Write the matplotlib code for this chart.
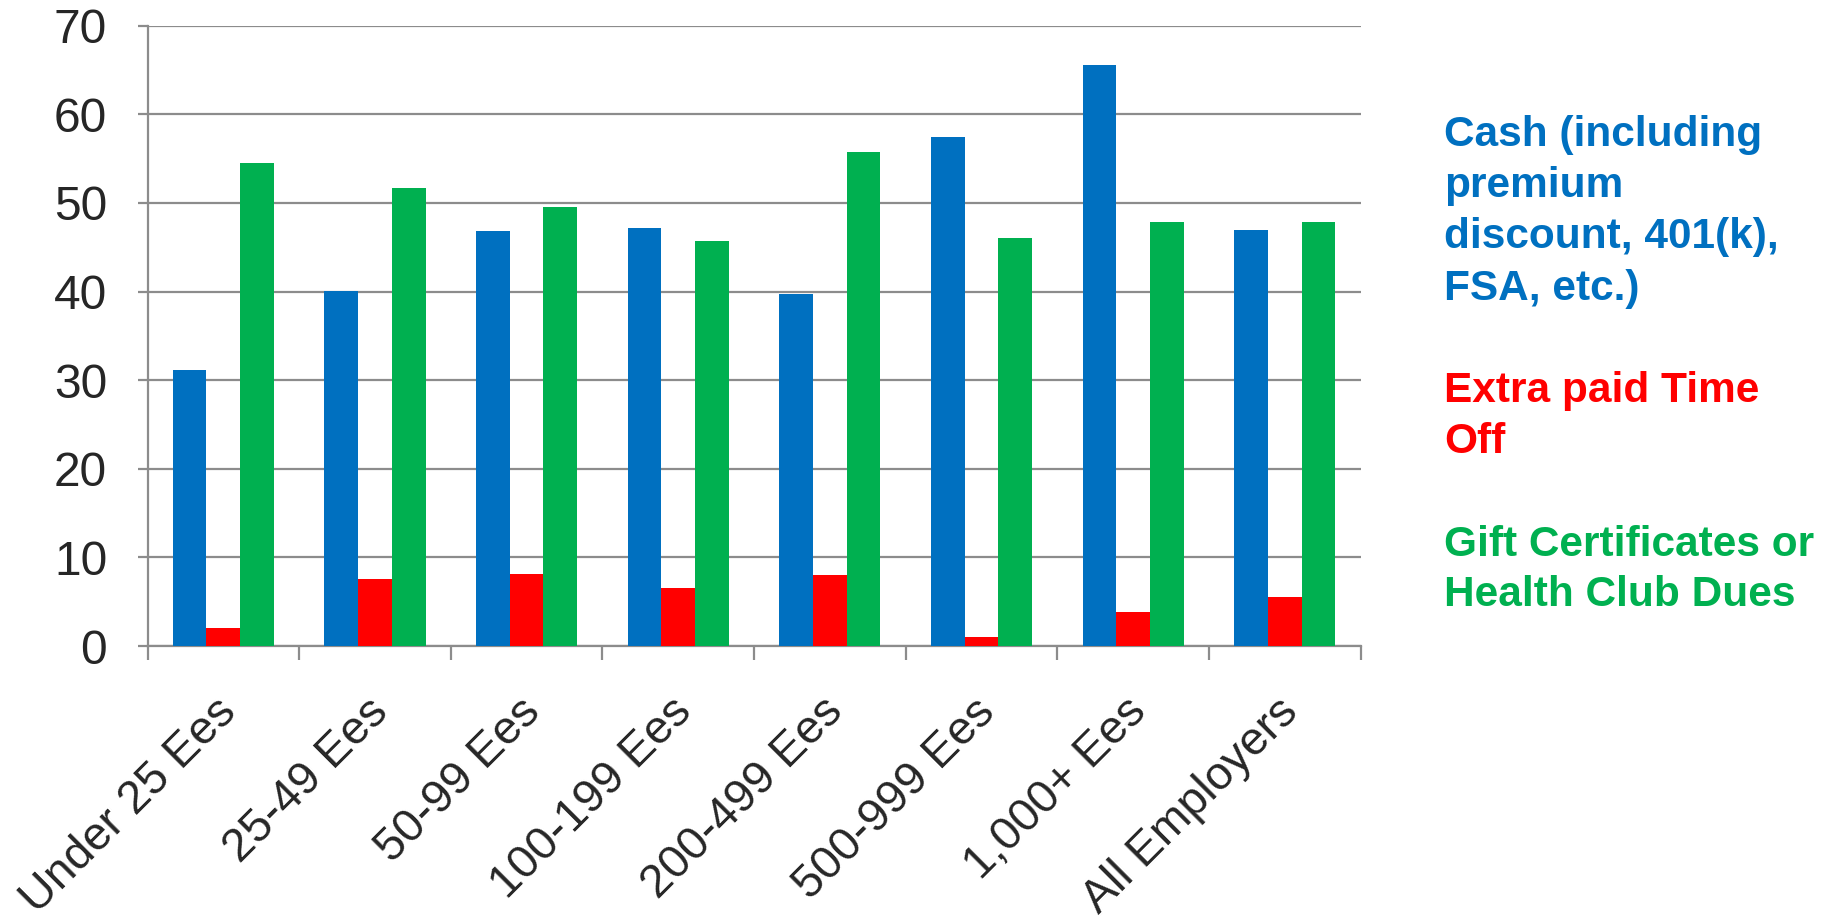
import matplotlib
matplotlib.use("Agg")
import matplotlib.pyplot as plt
import matplotlib.transforms as mtransforms
import numpy as np

# Share of employers offering each kind of incentive, by employer size
categories = ["Under 25 Ees", "25-49 Ees", "50-99 Ees", "100-199 Ees",
              "200-499 Ees", "500-999 Ees", "1,000+ Ees", "All Employers"]
cash = [31.1, 40.1, 46.8, 47.2, 39.7, 57.5, 65.6, 46.9]
time_off = [2.0, 7.6, 8.1, 6.5, 8.0, 1.0, 3.8, 5.5]
gift = [54.5, 51.7, 49.6, 45.7, 55.8, 46.0, 47.8, 47.8]
y_ticks = [0, 10, 20, 30, 40, 50, 60, 70]

series_labels = [
    ["Cash (including", "premium", "discount, 401(k),", "FSA, etc.)"],
    ["Extra paid Time", "Off"],
    ["Gift Certificates or", "Health Club Dues"],
]
colors = ["#0070C0", "#FF0000", "#00B050"]

plt.rcParams["font.family"] = ["Liberation Sans", "DejaVu Sans"]
grey = "#8c8c8c"
text_col = "#262626"

W, H = 1836, 923
fig = plt.figure(figsize=(W / 100, H / 100), dpi=100)
left, right, top, bottom = 147.5, 1360.6, 25.8, 646.0
ax = fig.add_axes([left / W, 1 - bottom / H, (right - left) / W, (bottom - top) / H])

x = np.arange(len(categories))
bw = 1 / 4.5
for i, (vals, c) in enumerate(zip([cash, time_off, gift], colors)):
    ax.bar(x + (i - 1) * bw, vals, bw, color=c, zorder=3, linewidth=0)

ax.set_xlim(-0.5, len(categories) - 0.5)
ax.set_ylim(0, 70)
ax.set_yticks(y_ticks)
ax.yaxis.grid(True, color=grey, lw=1.6, zorder=0)
ax.set_axisbelow(True)

for s in ("top", "right"):
    ax.spines[s].set_visible(False)
for s in ("left", "bottom"):
    ax.spines[s].set_color(grey)
    ax.spines[s].set_linewidth(1.6)

# group boundaries carry the tick marks; names sit at the group centres
ax.set_xticks(np.arange(-0.5, len(categories), 1))
ax.set_xticklabels([])
ax.set_xticks(x, minor=True)
ax.set_xticklabels(categories, minor=True)
ax.tick_params(axis="x", which="major", length=10, width=1.6, color=grey, direction="out")
ax.tick_params(axis="x", which="minor", length=0, pad=38, labelsize=33.5, labelcolor=text_col)
ax.tick_params(axis="y", length=7.5, width=1.6, color=grey, pad=21.5, labelsize=34.5,
               labelcolor=text_col)
nudge = mtransforms.ScaledTranslation(-9 / 100, 9 / 100, fig.dpi_scale_trans)
for lab in ax.get_xticklabels(minor=True):
    lab.set_rotation(45)
    lab.set_rotation_mode("anchor")
    lab.set_ha("right")
    lab.set_va("top")
    lab.set_transform(lab.get_transform() + nudge)

# text legend to the right of the plot
baselines = [[146.4, 197.5, 248.3, 299.8], [401.6, 453.2], [556.2, 606.5]]
for lines, ys, c in zip(series_labels, baselines, colors):
    for line, yb in zip(lines, ys):
        fig.text(1444 / W, 1 - yb / H, line, color=c, fontsize=30.5,
                 fontweight="bold", va="baseline", ha="left")

fig.savefig("out.png", dpi=100)
